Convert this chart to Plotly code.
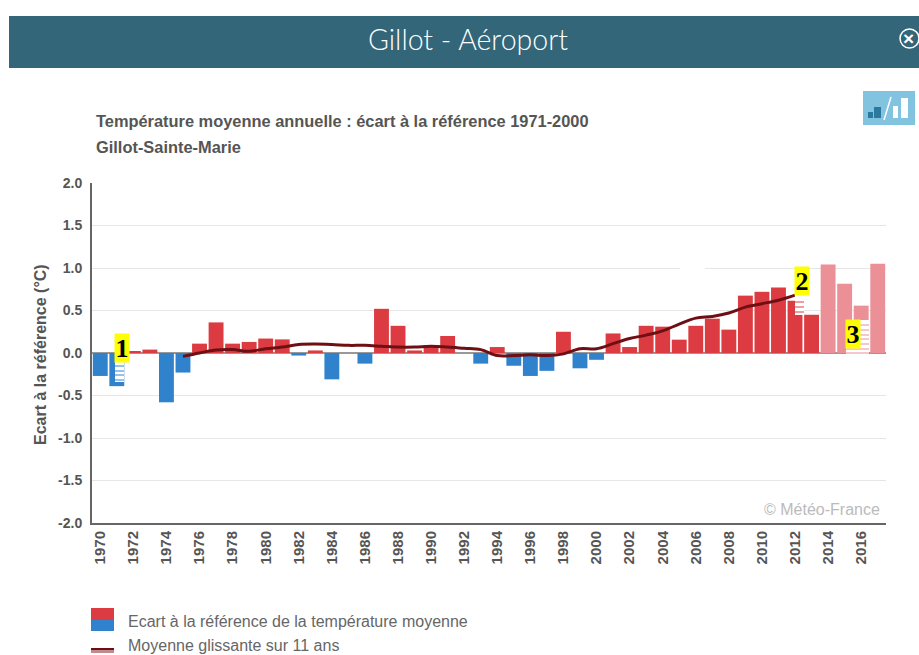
import plotly.graph_objects as go

years = list(range(1970, 2018))
anomalies = [-0.27, -0.39, 0.02, 0.04, -0.58, -0.23, 0.11, 0.36, 0.11, 0.13,
             0.17, 0.16, -0.03, 0.03, -0.31, 0.00, -0.125, 0.52, 0.32, 0.03,
             0.09, 0.20, 0.00, -0.125, 0.07, -0.15, -0.27, -0.21, 0.25, -0.18,
             -0.08, 0.23, 0.07, 0.32, 0.31, 0.157, 0.32, 0.404, 0.275, 0.675,
             0.72, 0.77, 0.615, 0.45, 1.04, 0.816, 0.557, 1.05]
pale_years = [2014, 2015, 2016, 2017]
ma_years = list(range(1975, 2013))
ma_values = [-0.04, 0.0, 0.035, 0.04, 0.02, 0.05, 0.07, 0.10, 0.105, 0.10,
             0.09, 0.09, 0.08, 0.07, 0.07, 0.08, 0.07, 0.055, 0.04, -0.03,
             -0.03, -0.02, -0.03, -0.01, 0.05, 0.05, 0.11, 0.17, 0.21, 0.26,
             0.34, 0.41, 0.43, 0.47, 0.54, 0.58, 0.62, 0.68]
y_ticks = [2, 1.5, 1, 0.5, 0, -0.5, -1, -1.5, -2]
y_labels = ["2.0", "1.5", "1.0", "0.5", "0.0", "-0.5", "-1.0", "-1.5", "-2.0"]
x_ticks = list(range(1970, 2017, 2))

RED, BLUE, PALE = "#dc3c41", "#3182cd", "#eb9096"
TXT = "#555555"
W, H = 919, 655
L, R, T, B = 92, 886, 183, 523
def px(v): return (v - L) / (R - L)
def py(v): return (B - v) / (B - T)

bar_colors = [PALE if y in pale_years else (RED if v >= 0 else BLUE)
              for y, v in zip(years, anomalies)]

fig = go.Figure()
fig.add_trace(go.Bar(x=years, y=anomalies, marker_color=bar_colors, marker_line_width=0,
                     width=0.9, showlegend=False))
fig.add_trace(go.Scatter(x=ma_years, y=ma_values, mode="lines",
                         line=dict(color="#6e0f14", width=3, shape="spline"), showlegend=False))

def rect(x0, x1, y0, y1, color):
    return dict(type="rect", xref="paper", yref="paper", x0=px(x0), x1=px(x1), y0=py(y1), y1=py(y0),
                fillcolor=color, line_width=0, layer="above")

shapes = [
    rect(9, 919, 16, 68, "#336679"),
    rect(863, 915, 91, 125, "#82c3e0"),
    rect(868, 873, 112, 118, "#2b7a9e"),
    rect(874, 881, 107, 118, "#2b7a9e"),
    rect(893, 898, 106, 118, "#ffffff"),
    rect(901, 908, 98, 118, "#ffffff"),
    dict(type="line", xref="paper", yref="paper", x0=px(884), x1=px(891), y0=py(120), y1=py(97),
         line=dict(color="#ffffff", width=1.5)),
    dict(type="circle", xref="paper", yref="paper", x0=px(900), x1=px(919), y0=py(29), y1=py(48),
         line=dict(color="#ffffff", width=1.5)),
    rect(91, 114, 608, 620, RED),
    rect(91, 114, 620, 631, BLUE),
    rect(91, 114, 650, 653, "#c08a8e"),
    rect(91, 114, 648, 650, "#6e0f14"),
    rect(680, 705, 264, 272, "#ffffff"),
]

# white hatching left under the numbered stickers
def hatch(x0, x1, y0, y1, lines, color):
    out = [rect(x0, x1, y0, y1, "#ffffff")]
    for v in lines:
        out.append(dict(type="line", xref="paper", yref="paper", x0=px(x0), x1=px(x1),
                        y0=py(v), y1=py(v), line=dict(color=color, width=1), layer="above"))
    return out

shapes += hatch(115, 124, 361, 382, [366, 371, 375, 380], BLUE)
shapes += hatch(795, 804, 295, 315, [302, 307, 312], RED)
shapes += hatch(846, 869, 320, 354, [325, 330, 335, 339, 344, 349, 353], PALE)

def text(x, y, s, size, color=TXT, weight=700, anchor="left", family="Liberation Sans", **kw):
    return dict(xref="paper", yref="paper", x=px(x), y=py(y), text=s, showarrow=False,
                xanchor=anchor, yanchor="middle",
                font=dict(size=size, color=color, family=family, weight=weight), **kw)

annos = [
    text(468, 39, "Gillot - Aéroport", 28.5, "#ffffff", 300, "center", "Lato"),
    text(909, 38, "×", 19, "#ffffff", 700, "center"),
    text(93.5, 121, "Température moyenne annuelle : écart à la référence 1971-2000", 16.4),
    text(93.5, 147, "Gillot-Sainte-Marie", 16.4),
    text(125.5, 621, "Ecart à la référence de la température moyenne", 16, "#666666", 400),
    text(125.5, 645, "Moyenne glissante sur 11 ans", 16, "#666666", 400),
    text(822, 509, "© Météo-France", 16, "#bbbbbb", 400, "center"),
    text(40, 355, "Ecart à la référence (°C)", 16, textangle=-90, anchor="center"),
]
stickers = [("1", 1971.3, 0.06), ("2", 2012.4, 0.85), ("3", 2015.5, 0.22)]
for s, xv, yv in stickers:
    annos.append(dict(xref="x", yref="y", x=xv, y=yv, text=s, showarrow=False,
                      bgcolor="#ffff00", width=14, height=28, borderpad=0,
                      font=dict(family="Liberation Serif", size=26, color="#000000", weight=700)))

fig.update_layout(
    width=W, height=H, margin=dict(l=L, r=W - R, t=T, b=H - B),
    paper_bgcolor="#ffffff", plot_bgcolor="#ffffff", bargap=0.1,
    shapes=shapes, annotations=annos, showlegend=False,
    xaxis=dict(range=[1969.5, 2017.5], tickmode="array", tickvals=x_ticks,
               ticktext=[str(t) for t in x_ticks], tickangle=-90, ticks="", showgrid=False,
               zeroline=False, showline=True, linecolor="#666666", linewidth=2,
               tickfont=dict(family="Liberation Sans", size=15, color=TXT, weight=700)),
    yaxis=dict(range=[-2, 2], tickmode="array", tickvals=y_ticks, ticktext=y_labels,
               ticks="", gridcolor="#e6e6e6", gridwidth=1, zeroline=True, zerolinecolor="#999999",
               zerolinewidth=1.5, showline=True, linecolor="#666666", linewidth=2,
               ticklabelstandoff=5,
               tickfont=dict(family="Liberation Sans", size=14, color=TXT, weight=700)),
)
# the window is exactly the figure's size: drop the page's default margin
fig.write_html("out.html", config={"displayModeBar": False},
               post_script="document.body.style.margin='0';document.body.style.overflow='hidden';")
